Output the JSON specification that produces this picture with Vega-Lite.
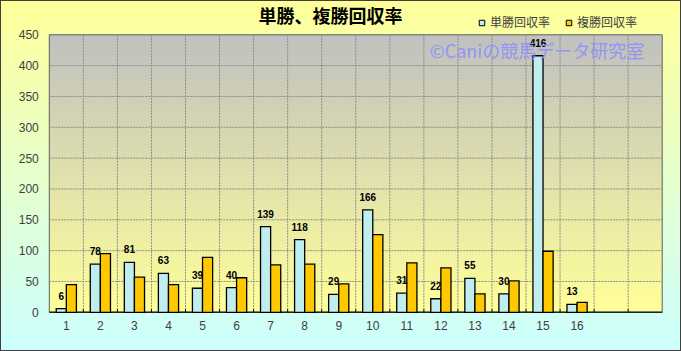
{
  "$schema": "https://vega.github.io/schema/vega-lite/v6.json",
  "width": 681,
  "height": 351,
  "autosize": {"type": "none"},
  "padding": 0,
  "background": "#E8FFE0",
  "config": {
    "view": {
      "fill": {"gradient": "linear", "x1": 0, "y1": 0, "x2": 0, "y2": 1,
        "stops": [{"offset": 0, "color": "#FFFF99"}, {"offset": 1, "color": "#CCFFFF"}]},
      "stroke": "#404040",
      "strokeWidth": 2
    },
    "axis": {"title": null, "grid": false, "domain": false, "ticks": false, "labelFont": "Liberation Sans", "labelFontSize": 12, "labelColor": "#404040"},
    "axisX": {"offset": -38.7, "labelPadding": 8, "labelAngle": 0},
    "axisY": {"offset": -53.3, "labelPadding": 15}
  },
  "title": {
    "text": "単勝、複勝回収率",
    "font": "Noto Sans CJK JP",
    "fontSize": 18,
    "fontWeight": "bold",
    "color": "#000000",
    "anchor": "middle",
    "baseline": "bottom",
    "offset": -27,
    "dx": -10,
    "dy": 18
  },
  "datasets": {
    "main": [
      {"cat": "1", "series": "単勝回収率", "value": 6},
      {"cat": "1", "series": "複勝回収率", "value": 45},
      {"cat": "2", "series": "単勝回収率", "value": 78},
      {"cat": "2", "series": "複勝回収率", "value": 95},
      {"cat": "3", "series": "単勝回収率", "value": 81},
      {"cat": "3", "series": "複勝回収率", "value": 57},
      {"cat": "4", "series": "単勝回収率", "value": 63},
      {"cat": "4", "series": "複勝回収率", "value": 45},
      {"cat": "5", "series": "単勝回収率", "value": 39},
      {"cat": "5", "series": "複勝回収率", "value": 89},
      {"cat": "6", "series": "単勝回収率", "value": 40},
      {"cat": "6", "series": "複勝回収率", "value": 56},
      {"cat": "7", "series": "単勝回収率", "value": 139},
      {"cat": "7", "series": "複勝回収率", "value": 77},
      {"cat": "8", "series": "単勝回収率", "value": 118},
      {"cat": "8", "series": "複勝回収率", "value": 78},
      {"cat": "9", "series": "単勝回収率", "value": 29},
      {"cat": "9", "series": "複勝回収率", "value": 46},
      {"cat": "10", "series": "単勝回収率", "value": 166},
      {"cat": "10", "series": "複勝回収率", "value": 126},
      {"cat": "11", "series": "単勝回収率", "value": 31},
      {"cat": "11", "series": "複勝回収率", "value": 80},
      {"cat": "12", "series": "単勝回収率", "value": 22},
      {"cat": "12", "series": "複勝回収率", "value": 72},
      {"cat": "13", "series": "単勝回収率", "value": 55},
      {"cat": "13", "series": "複勝回収率", "value": 30},
      {"cat": "14", "series": "単勝回収率", "value": 30},
      {"cat": "14", "series": "複勝回収率", "value": 51},
      {"cat": "15", "series": "単勝回収率", "value": 416},
      {"cat": "15", "series": "複勝回収率", "value": 99},
      {"cat": "16", "series": "単勝回収率", "value": 13},
      {"cat": "16", "series": "複勝回収率", "value": 16}
    ],
    "vgrid": [
      {"b": "2"}, {"b": "3"}, {"b": "4"}, {"b": "5"}, {"b": "6"}, {"b": "7"},
      {"b": "8"}, {"b": "9"}, {"b": "10"}, {"b": "11"}, {"b": "12"}, {"b": "13"},
      {"b": "14"}, {"b": "15"}, {"b": "16"}, {"b": "17"}, {"b": "18"}
    ],
    "hgrid": [
      {"g": 50}, {"g": 100}, {"g": 150}, {"g": 200}, {"g": 250}, {"g": 300}, {"g": 350}, {"g": 400}
    ],
    "one": [{}]
  },
  "layer": [
    {
      "data": {"name": "one"},
      "mark": {
        "type": "rect",
        "fill": {"gradient": "linear", "x1": 0, "y1": 0, "x2": 0, "y2": 1,
          "stops": [{"offset": 0, "color": "#C0C0C0"}, {"offset": 1, "color": "#FFFF99"}]},
        "stroke": "#606060",
        "strokeWidth": 1
      },
      "encoding": {
        "x": {
          "datum": "1", "type": "nominal", "bandPosition": 0,
          "scale": {
            "type": "band",
            "domain": ["1","2","3","4","5","6","7","8","9","10","11","12","13","14","15","16","17","18"],
            "paddingInner": 0, "paddingOuter": 1.0907, "align": 0.724
          },
          "axis": {"values": ["1","2","3","4","5","6","7","8","9","10","11","12","13","14","15","16"]}
        },
        "x2": {"datum": "18", "bandPosition": 1},
        "y": {
          "datum": 450, "type": "quantitative",
          "scale": {"domain": [-62.75, 506.4], "nice": false, "zero": false},
          "axis": {"values": [0, 50, 100, 150, 200, 250, 300, 350, 400, 450]}
        },
        "y2": {"datum": 0}
      }
    },
    {
      "data": {"name": "vgrid"},
      "mark": {"type": "rule", "stroke": "#8C8C8C", "strokeWidth": 1, "strokeDash": [2, 1]},
      "encoding": {
        "x": {"field": "b", "type": "nominal", "bandPosition": 0, "axis": {"values": ["1","2","3","4","5","6","7","8","9","10","11","12","13","14","15","16"]}},
        "y": {"datum": 450, "type": "quantitative", "axis": {"values": [0, 50, 100, 150, 200, 250, 300, 350, 400, 450]}},
        "y2": {"datum": 0}
      }
    },
    {
      "data": {"name": "hgrid"},
      "mark": {"type": "rule", "stroke": "#8C8C8C", "strokeWidth": 1, "strokeDash": [2, 1]},
      "encoding": {
        "y": {"field": "g", "type": "quantitative", "axis": {"values": [0, 50, 100, 150, 200, 250, 300, 350, 400, 450]}},
        "x": {"datum": "1", "type": "nominal", "bandPosition": 0, "axis": {"values": ["1","2","3","4","5","6","7","8","9","10","11","12","13","14","15","16"]}},
        "x2": {"datum": "18", "bandPosition": 1}
      }
    },
    {
      "data": {"name": "vgrid"},
      "mark": {"type": "rule", "stroke": "#000000", "strokeWidth": 1},
      "encoding": {
        "x": {"field": "b", "type": "nominal", "bandPosition": 0, "axis": {"values": ["1","2","3","4","5","6","7","8","9","10","11","12","13","14","15","16"]}},
        "y": {"datum": 0, "type": "quantitative", "axis": {"values": [0, 50, 100, 150, 200, 250, 300, 350, 400, 450]}},
        "y2": {"datum": 5}
      }
    },
    {
      "data": {"name": "one"},
      "mark": {"type": "rule", "stroke": "#202020", "strokeWidth": 1.5},
      "encoding": {
        "y": {"datum": 0, "type": "quantitative", "axis": {"values": [0, 50, 100, 150, 200, 250, 300, 350, 400, 450]}},
        "x": {"datum": "1", "type": "nominal", "bandPosition": 0, "axis": {"values": ["1","2","3","4","5","6","7","8","9","10","11","12","13","14","15","16"]}},
        "x2": {"datum": "18", "bandPosition": 1}
      }
    },
    {
      "data": {"name": "main"},
      "mark": {"type": "bar", "stroke": "#000000", "strokeWidth": 1.3},
      "encoding": {
        "x": {"field": "cat", "type": "nominal", "sort": null, "axis": {"values": ["1","2","3","4","5","6","7","8","9","10","11","12","13","14","15","16"]}},
        "xOffset": {
          "field": "series", "type": "nominal",
          "scale": {"domain": ["単勝回収率", "複勝回収率"], "paddingInner": 0, "paddingOuter": 0.686}
        },
        "y": {"field": "value", "type": "quantitative", "axis": {"values": [0, 50, 100, 150, 200, 250, 300, 350, 400, 450]}},
        "y2": {"datum": 0},
        "color": {
          "field": "series", "type": "nominal",
          "scale": {"domain": ["単勝回収率", "複勝回収率"], "range": ["#C0EEEE", "#FFC800"]},
          "legend": {
            "orient": "none", "legendX": 476, "legendY": 17, "direction": "horizontal",
            "title": null, "symbolType": "square", "symbolSize": 30,
            "symbolStrokeColor": "#000000", "symbolStrokeWidth": 1, "symbolOpacity": 1,
            "labelFont": "Noto Sans CJK JP", "labelFontSize": 12, "labelColor": "#404040",
            "columnPadding": 12, "labelOffset": 2, "padding": 0
          }
        }
      }
    },
    {
      "data": {"name": "main"},
      "transform": [{"filter": "datum.series === '単勝回収率'"}],
      "mark": {"type": "text", "font": "Liberation Sans", "fontSize": 10, "fontWeight": "bold",
        "baseline": "alphabetic", "dy": -9, "color": "#000000"},
      "encoding": {
        "x": {"field": "cat", "type": "nominal", "sort": null, "axis": {"values": ["1","2","3","4","5","6","7","8","9","10","11","12","13","14","15","16"]}},
        "xOffset": {"field": "series", "type": "nominal"},
        "y": {"field": "value", "type": "quantitative", "axis": {"values": [0, 50, 100, 150, 200, 250, 300, 350, 400, 450]}},
        "text": {"field": "value", "type": "quantitative"}
      }
    },
    {
      "data": {"name": "one"},
      "mark": {"type": "text", "text": "©Caniの競馬データ研究室", "font": "Noto Sans CJK JP",
        "fontSize": 18, "color": "#8F8FFF", "opacity": 0.9, "align": "center",
        "baseline": "middle", "dx": -6},
      "encoding": {
        "x": {"datum": "15", "type": "nominal", "axis": {"values": ["1","2","3","4","5","6","7","8","9","10","11","12","13","14","15","16"]}},
        "y": {"datum": 421, "type": "quantitative", "axis": {"values": [0, 50, 100, 150, 200, 250, 300, 350, 400, 450]}}
      }
    }
  ]
}
